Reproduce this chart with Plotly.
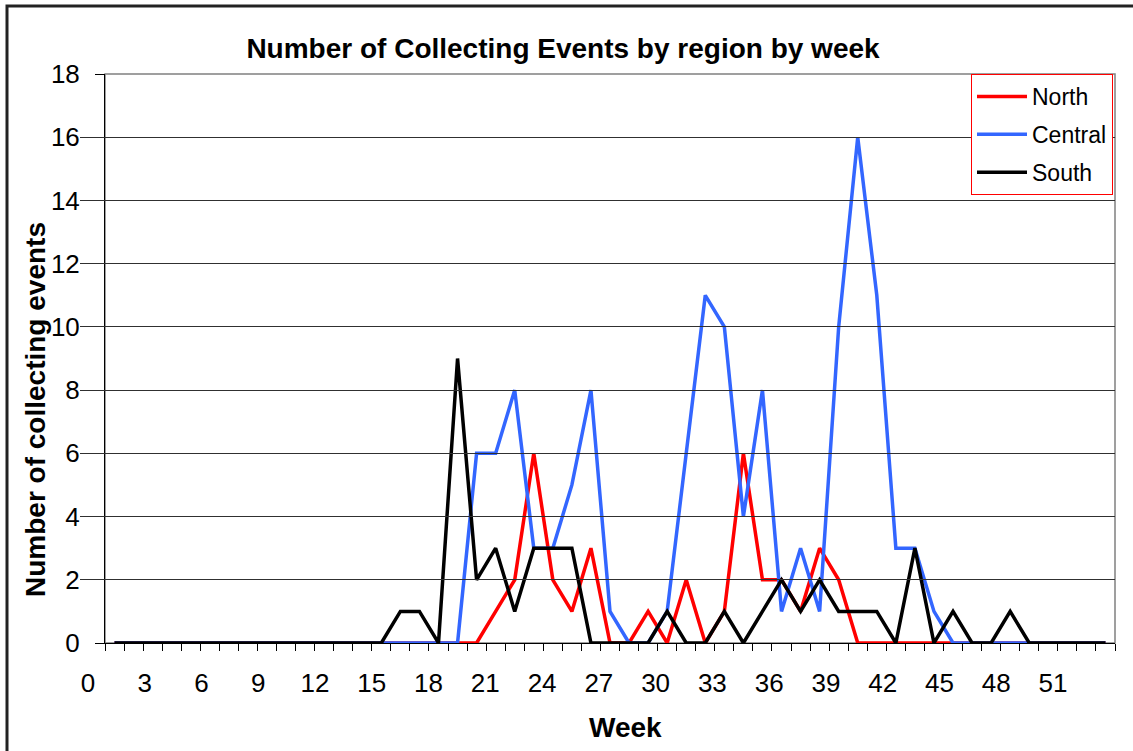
import plotly.graph_objects as go

# ---------------- data ----------------
weeks = list(range(1, 54))
north = [0]*20 + [1, 2, 6, 2, 1, 3, 0, 0, 1, 0, 2, 0, 1, 6, 2, 2, 1, 3, 2] + [0]*14
central = [0]*19 + [6, 6, 8, 3, 3, 5, 8, 1, 0, 0, 1, 6, 11, 10, 4, 8, 1, 3, 1, 10, 16, 11, 3, 3, 1] + [0]*9
south = [0]*15 + [1, 1, 0, 9, 2, 3, 1, 3, 3, 3, 0, 0, 0, 0, 1, 0, 0, 1, 0, 1, 2, 1, 2, 1, 1, 1, 0, 3, 0, 1, 0, 0, 1] + [0]*5
week_labels = list(range(0, 52, 3))
y_ticks = list(range(0, 20, 2))

series = [("North", north, "#FF0000"), ("Central", central, "#3366FF"), ("South", south, "#000000")]

# ---------------- geometry helpers (pixels -> paper) ----------------
W, H = 1133, 751
ML, MR, MT, MB = 80, 18, 74, 108
PW, PH = W - ML - MR, H - MT - MB
def px_x(px):
    return (px - ML) / PW
def px_y(py):
    return (H - MB - py) / PH

FONT = "Arial, Liberation Sans, sans-serif"

fig = go.Figure()
for i, (name, vals, col) in enumerate(series):
    fig.add_trace(go.Scatter(x=weeks, y=vals, mode="lines", name=name,
                             legendgroup=name,
                             line=dict(color=col, width=3.5)))

# invisible trace to host the label axis
fig.add_trace(go.Scatter(x=[week_labels[0], week_labels[-1]], y=[None, None],
                         xaxis="x2", yaxis="y", showlegend=False, hoverinfo="skip"))

fig.update_layout(
    width=W, height=H,
    margin=dict(l=ML, r=MR, t=MT, b=MB),
    paper_bgcolor="white", plot_bgcolor="rgba(0,0,0,0)",
    showlegend=True,
    title=dict(text="<b>Number of Collecting Events by region by week</b>",
               x=px_x(563), y=1 - 48 / H, xref="paper", yref="container",
               xanchor="center", yanchor="middle",
               font=dict(family=FONT, size=28, color="black")),
    xaxis=dict(domain=[px_x(105), 1], range=[0.5, 53.5],
               tickmode="linear", tick0=0.5, dtick=1,
               ticks="outside", ticklen=7, tickcolor="black", tickwidth=1,
               showticklabels=False, showgrid=False, zeroline=False,
               showline=True, linecolor="black", linewidth=1),
    xaxis2=dict(domain=[0, 1], anchor="y",
                range=[(ML - 88) / 18.92, (W - MR - 88) / 18.92],
                tickmode="array", tickvals=week_labels,
                ticktext=[str(v) for v in week_labels],
                ticks="", showline=False, showgrid=False, zeroline=False,
                ticklabelstandoff=22,
                tickfont=dict(family=FONT, size=26, color="black")),
    yaxis=dict(range=[0, 18], tickmode="array", tickvals=y_ticks,
               anchor="x",
               ticks="outside", ticklen=9, tickcolor="black",
               showgrid=True, gridcolor="#303030", gridwidth=1,
               zeroline=False, showline=True, linecolor="black", linewidth=1,
               ticklabelstandoff=10,
               tickfont=dict(family=FONT, size=26, color="black")),
    legend=dict(x=px_x(1113), y=1, xanchor="right", yanchor="top",
                bgcolor="white", bordercolor="#FF0000", borderwidth=1,
                tracegroupgap=5, itemwidth=50,
                font=dict(family=FONT, size=23, color="black")),
)

# plot-area border (grey top/right)
fig.add_shape(type="rect", xref="x domain", yref="y domain", x0=0, x1=1, y0=0, y1=1,
              line=dict(color="#808080", width=1.5), layer="below")
# outer chart frame
fig.add_shape(type="rect", xref="paper", yref="paper",
              x0=px_x(7), x1=px_x(W + 20), y0=px_y(H + 20), y1=px_y(6),
              line=dict(color="#222222", width=3), layer="below")

fig.add_annotation(text="<b>Week</b>", xref="paper", yref="paper",
                   x=px_x(625), y=px_y(727), showarrow=False,
                   xanchor="center", yanchor="middle",
                   font=dict(family=FONT, size=28, color="black"))
fig.add_annotation(text="<b>Number of collecting events</b>", xref="paper", yref="paper",
                   x=px_x(35), y=px_y(410), showarrow=False, textangle=-90,
                   xanchor="center", yanchor="middle",
                   font=dict(family=FONT, size=28, color="black"))

fig.write_html("out.html", config={"displayModeBar": False},
               post_script="document.body.style.margin='0';")
